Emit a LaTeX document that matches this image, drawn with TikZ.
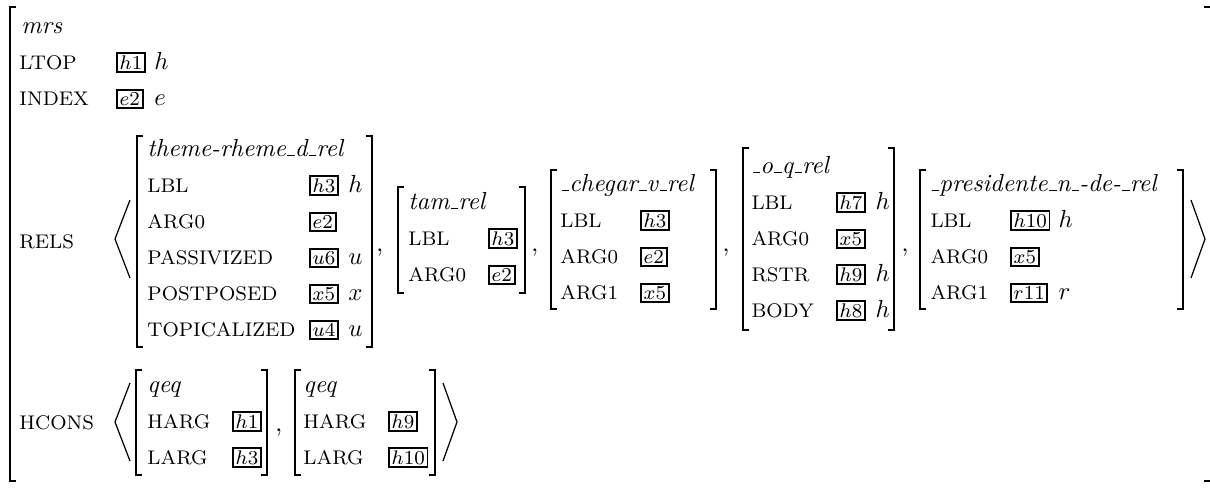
\documentclass[tikz,border=0pt]{standalone}
% short underscore rule, as in OT1 text fonts
\newcommand\usc{\leavevmode\kern.06em\vbox{\hrule width.3em height 0.45pt}}
\begin{document}
\begin{tikzpicture}[x=0.405pt,y=-0.405pt,
  lab/.style={anchor=base west,inner sep=0pt,font=\fontsize{8}{9}\selectfont},
  typ/.style={anchor=base west,inner sep=0pt,font=\itshape},
  tag/.style={anchor=base west,draw,line width=0.8pt,inner sep=1.1pt,
              text depth=0pt,font=\fontsize{8}{9}\selectfont},
  var/.style={anchor=base west,inner sep=0pt},
  brk/.style={line width=0.7pt},
  ang/.style={line width=0.5pt}]
\fill[white] (0,0) rectangle (1210,487);
\useasboundingbox (0,0) rectangle (1210,487);

% outer mrs matrix
\draw[brk] (16,7) -- (10,7) -- (10,481) -- (16,481);
\draw[brk] (1204,7) -- (1211,7);
\draw[brk] (1204,481) -- (1211,481);
\node[typ] (mrs) at (21,33) {mrs};
\node[lab] (ltop) at (19,69) {LTOP};
\node[tag] (ltopv) at (116,69) {$h1$};
\node[var] (ltopt) at (154,69) {$h$};
\node[lab] (index) at (19,105) {INDEX};
\node[tag] (indexv) at (116,105) {$e2$};
\node[var] (indext) at (154,105) {$e$};
\node[lab] (rels) at (19,248) {RELS};
\node[lab] (hcons) at (19,429) {HCONS};

% RELS list
\draw[ang] (130,200) -- (115,239) -- (130,278);
\draw[ang] (1191,200) -- (1205,239) -- (1191,278);

% theme-rheme_d_rel
\draw[brk] (143,136) -- (137,136) -- (137,347) -- (143,347);
\draw[brk] (366,136) -- (372,136) -- (372,347) -- (366,347);
\node[typ] (r1t) at (147,156) {theme-rheme\usc d\usc rel};
\node[lab] (r1a) at (147,192) {LBL};
\node[tag] (r1av) at (309,192) {$h3$};
\node[var] (r1at) at (348,192) {$h$};
\node[lab] (r1b) at (147,228) {ARG0};
\node[tag] (r1bv) at (309,228) {$e2$};
\node[lab] (r1c) at (147,264) {PASSIVIZED};
\node[tag] (r1cv) at (309,264) {$u6$};
\node[var] (r1ct) at (348,264) {$u$};
\node[lab] (r1d) at (147,300) {POSTPOSED};
\node[tag] (r1dv) at (309,300) {$x5$};
\node[var] (r1dt) at (348,300) {$x$};
\node[lab] (r1e) at (147,336) {TOPICALIZED};
\node[tag] (r1ev) at (309,336) {$u4$};
\node[var] (r1et) at (348,336) {$u$};
\node[var] (c1) at (376,251) {,};

% tam_rel
\draw[brk] (404,187) -- (398,187) -- (398,293) -- (404,293);
\draw[brk] (519,187) -- (525,187) -- (525,293) -- (519,293);
\node[typ] (r2t) at (408,209) {tam\usc rel};
\node[lab] (r2a) at (408,245) {LBL};
\node[tag] (r2av) at (488,245) {$h3$};
\node[lab] (r2b) at (408,281) {ARG0};
\node[tag] (r2bv) at (488,281) {$e2$};
\node[var] (c2) at (531,251) {,};

% _chegar_v_rel
\draw[brk] (557,170) -- (551,170) -- (551,309) -- (557,309);
\draw[brk] (710,170) -- (716,170) -- (716,309) -- (710,309);
\node[typ] (r3t) at (560,191) {\usc chegar\usc v\usc rel};
\node[lab] (r3a) at (560,227) {LBL};
\node[tag] (r3av) at (640,227) {$h3$};
\node[lab] (r3b) at (560,263) {ARG0};
\node[tag] (r3bv) at (640,263) {$e2$};
\node[lab] (r3c) at (560,299) {ARG1};
\node[tag] (r3cv) at (640,299) {$x5$};
\node[var] (c3) at (722,251) {,};

% _o_q_rel
\draw[brk] (749,148) -- (743,148) -- (743,330) -- (749,330);
\draw[brk] (888,148) -- (894,148) -- (894,330) -- (888,330);
\node[typ] (r4t) at (751,173) {\usc o\usc q\usc rel};
\node[lab] (r4a) at (751,209) {LBL};
\node[tag] (r4av) at (836,209) {$h7$};
\node[var] (r4at) at (875,209) {$h$};
\node[lab] (r4b) at (751,245) {ARG0};
\node[tag] (r4bv) at (836,245) {$x5$};
\node[lab] (r4c) at (751,281) {RSTR};
\node[tag] (r4cv) at (836,281) {$h9$};
\node[var] (r4ct) at (875,281) {$h$};
\node[lab] (r4d) at (751,317) {BODY};
\node[tag] (r4dv) at (836,317) {$h8$};
\node[var] (r4dt) at (875,317) {$h$};
\node[var] (c4) at (901,251) {,};

% _presidente_n_-de-_rel
\draw[brk] (926,170) -- (920,170) -- (920,309) -- (926,309);
\draw[brk] (1177,170) -- (1183,170) -- (1183,309) -- (1177,309);
\node[typ] (r5t) at (930,191) {\usc presidente\usc n\usc -de-\usc rel};
\node[lab] (r5a) at (930,227) {LBL};
\node[tag] (r5av) at (1010,227) {$h10$};
\node[var] (r5at) at (1058,227) {$h$};
\node[lab] (r5b) at (930,263) {ARG0};
\node[tag] (r5bv) at (1010,263) {$x5$};
\node[lab] (r5c) at (930,299) {ARG1};
\node[tag] (r5cv) at (1010,299) {$r11$};
\node[var] (r5ct) at (1058,299) {$r$};

% HCONS list
\draw[ang] (130,383) -- (115,422) -- (130,461);
\draw[ang] (443,383) -- (457,422) -- (443,461);

\draw[brk] (142,370) -- (136,370) -- (136,475) -- (142,475);
\draw[brk] (261,370) -- (267,370) -- (267,475) -- (261,475);
\node[typ] (q1t) at (147,392) {qeq};
\node[lab] (q1a) at (147,428) {HARG};
\node[tag] (q1av) at (232,428) {$h1$};
\node[lab] (q1b) at (147,464) {LARG};
\node[tag] (q1bv) at (232,464) {$h3$};
\node[var] (c5) at (275,431) {,};

\draw[brk] (301,370) -- (295,370) -- (295,475) -- (301,475);
\draw[brk] (429,370) -- (435,370) -- (435,475) -- (429,475);
\node[typ] (q2t) at (303,392) {qeq};
\node[lab] (q2a) at (303,428) {HARG};
\node[tag] (q2av) at (388,428) {$h9$};
\node[lab] (q2b) at (303,464) {LARG};
\node[tag] (q2bv) at (388,464) {$h10$};
\end{tikzpicture}
\end{document}
